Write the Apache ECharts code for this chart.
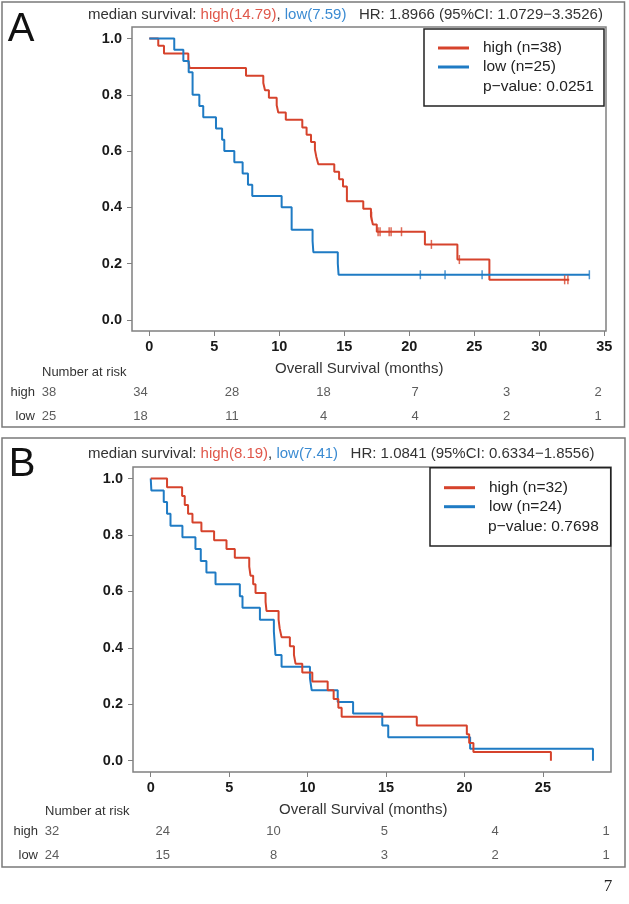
<!DOCTYPE html>
<html><head><meta charset="utf-8">
<script src="https://cdn.jsdelivr.net/npm/echarts@6/dist/echarts.min.js"></script>
<style>html,body{margin:0;padding:0;background:#fff}#c{width:629px;height:904px}</style>
</head><body><div id="c"></div>
<script>
// ---------- Panel A data ----------
const aHighT = [0, 0.69, 1.13, 3.0, 3.1, 7.44, 8.77, 8.9, 9.2, 9.8, 9.92, 10.5, 11.77, 12.1, 12.44, 12.74, 12.85, 13.0, 14.23, 14.6, 14.9, 15.2, 16.46, 17.05, 17.2, 17.5, 21.2, 23.7, 26.16, 32.3];
const aHighS = [1, 0.974, 0.947, 0.921, 0.895, 0.868, 0.842, 0.816, 0.789, 0.763, 0.737, 0.711, 0.684, 0.658, 0.632, 0.605, 0.579, 0.553, 0.526, 0.5, 0.474, 0.421, 0.395, 0.368, 0.339, 0.313, 0.268, 0.214, 0.142, 0.142];
const aHighCensT = [17.1, 17.6, 17.75, 18.45, 18.6, 19.4, 21.7, 23.85, 31.95, 32.2];
const aHighCensS = [0.368, 0.313, 0.313, 0.313, 0.313, 0.313, 0.268, 0.214, 0.142, 0.142];
const aLowT = [0, 1.92, 2.62, 3.03, 3.33, 3.85, 4.15, 5.13, 5.6, 5.77, 6.54, 7.18, 7.59, 7.92, 10.18, 10.95, 12.56, 12.62, 14.5, 14.56, 33.85];
const aLowS = [1, 0.96, 0.92, 0.88, 0.80, 0.76, 0.72, 0.68, 0.64, 0.60, 0.56, 0.52, 0.48, 0.44, 0.40, 0.32, 0.28, 0.24, 0.20, 0.16, 0.16];
const aLowCensT = [20.85, 22.75, 25.6, 33.85];
const aLowCensS = [0.16, 0.16, 0.16, 0.16];
const aXTicks = [0, 5, 10, 15, 20, 25, 30, 35];
const riskTimesA = [0, 5, 10, 15, 20, 25, 30];
const riskAHigh = [38, 34, 28, 18, 7, 3, 2];
const riskALow = [25, 18, 11, 4, 4, 2, 1];
const namesA = ['high (n=38)', 'low (n=25)'];
const headerA = ['median survival: ', 'high(14.79)', ', ', 'low(7.59)', '   HR: 1.8966 (95%CI: 1.0729\u22123.3526)'];
const pA = 'p\u2212value: 0.0251';

// ---------- Panel B data ----------
const bHighT = [0, 1.04, 2.0, 2.17, 2.38, 2.66, 3.23, 4.04, 4.83, 5.36, 6.28, 6.36, 6.53, 6.68, 7.32, 7.38, 8.15, 8.22, 8.34, 8.87, 9.13, 9.23, 9.66, 10.3, 11.28, 11.66, 11.96, 12.17, 16.96, 20.15, 20.3, 20.57, 25.51];
const bHighS = [1, 0.969, 0.938, 0.906, 0.875, 0.844, 0.813, 0.781, 0.75, 0.719, 0.688, 0.656, 0.625, 0.594, 0.563, 0.531, 0.5, 0.469, 0.438, 0.406, 0.375, 0.344, 0.313, 0.281, 0.25, 0.219, 0.188, 0.156, 0.125, 0.094, 0.0625, 0.031, 0];
const bLowT = [0, 0.04, 0.83, 1.04, 1.26, 2.02, 2.85, 3.19, 3.55, 4.13, 5.68, 5.85, 6.96, 7.85, 7.9, 7.95, 8.34, 10.15, 10.26, 11.92, 12.9, 14.76, 15.14, 20.36, 28.19];
const bLowS = [1, 0.958, 0.917, 0.875, 0.833, 0.792, 0.75, 0.708, 0.667, 0.625, 0.583, 0.542, 0.5, 0.458, 0.417, 0.375, 0.333, 0.292, 0.25, 0.208, 0.167, 0.125, 0.083, 0.042, 0];
const bXTicks = [0, 5, 10, 15, 20, 25];
const riskTimesB = [0, 5, 10, 15, 20, 25];
const riskBHigh = [32, 24, 10, 5, 4, 1];
const riskBLow = [24, 15, 8, 3, 2, 1];
const namesB = ['high (n=32)', 'low (n=24)'];
const headerB = ['median survival: ', 'high(8.19)', ', ', 'low(7.41)', '   HR: 1.0841 (95%CI: 0.6334\u22121.8556)'];
const pB = 'p\u2212value: 0.7698';

const yTicks = [0, 0.2, 0.4, 0.6, 0.8, 1.0];

// ---------- styling ----------
const RED = '#d6432c', BLUE = '#1f7bc4';
const RED_T = '#e0574a', BLUE_T = '#3b8bd2';
const FRAME = '#808080';
const FONT = '"Liberation Sans", Arial, sans-serif';

function zip(t, s) { return t.map((v, i) => [v, s[i]]); }

function plotAxes(gi, min, max, ticks) {
  const x = {
    gridIndex: gi, type: 'value', min: min, max: max, position: 'bottom',
    axisLine: { show: false, onZero: false },
    axisTick: { show: true, inside: false, length: 5, customValues: ticks, lineStyle: { color: FRAME, width: 1 } },
    axisLabel: { customValues: ticks, fontWeight: 'bold', fontSize: 14.5, color: '#1a1a1a', margin: 8, fontFamily: FONT },
    splitLine: { show: false }
  };
  const y = {
    gridIndex: gi, type: 'value', min: -0.04, max: 1.041, position: 'left',
    axisLine: { show: false, onZero: false },
    axisTick: { show: true, inside: false, length: 5, customValues: yTicks, lineStyle: { color: FRAME, width: 1 } },
    axisLabel: { customValues: yTicks, fontWeight: 'bold', fontSize: 14.5, color: '#1a1a1a', margin: 10, fontFamily: FONT,
      formatter: v => v.toFixed(1) },
    splitLine: { show: false }
  };
  return [x, y];
}
function riskAxes(gi, max) {
  return [
    { gridIndex: gi, type: 'value', min: 0, max: max, show: false },
    { gridIndex: gi, type: 'category', data: ['low', 'high'], boundaryGap: false,
      axisLine: { show: false, onZero: false }, axisTick: { show: false }, splitLine: { show: false },
      axisLabel: { fontSize: 13, color: '#333', margin: 14, fontFamily: FONT } }
  ];
}

const [ax0, ay0] = plotAxes(0, -1.33, 35.13, aXTicks);
const [ax1, ay1] = plotAxes(1, -1.13, 29.34, bXTicks);
const [ax2, ay2] = riskAxes(2, 30);
const [ax3, ay3] = riskAxes(3, 25);

function kmLine(name, gi, t, s, color, z) {
  return { type: 'line', name: name, xAxisIndex: gi, yAxisIndex: gi, data: zip(t, s), step: 'end',
    symbol: 'none', lineStyle: { color: color, width: 2 }, itemStyle: { color: color }, z: z, silent: true, animation: false };
}
function censor(name, gi, t, s, color) {
  return { type: 'scatter', name: name, xAxisIndex: gi, yAxisIndex: gi, data: zip(t, s),
    symbol: 'rect', symbolSize: [1.5, 9], itemStyle: { color: color }, z: 5, silent: true, animation: false };
}
function riskRow(gi, times, row, vals) {
  return { type: 'scatter', xAxisIndex: gi, yAxisIndex: gi, data: times.map((t, i) => [t, row, vals[i]]),
    symbol: 'circle', symbolSize: 1, itemStyle: { color: 'rgba(255,255,255,0)' }, silent: true, animation: false,
    label: { show: true, position: 'inside', formatter: p => String(p.value[2]), fontSize: 13, color: '#333', fontFamily: FONT } };
}
function header(top, parts) {
  return { left: 88, top: top, padding: 0,
    text: '{k|' + parts[0] + '}{r|' + parts[1] + '}{k|' + parts[2] + '}{b|' + parts[3] + '}{k|' + parts[4] + '}',
    textStyle: { fontSize: 15, fontWeight: 'normal', fontFamily: FONT,
      rich: { k: { color: '#333', fontSize: 15, fontFamily: FONT }, r: { color: RED_T, fontSize: 15, fontFamily: FONT }, b: { color: BLUE_T, fontSize: 15, fontFamily: FONT } } } };
}
function legend(names, left, top) {
  return { orient: 'vertical', left: left, top: top, padding: 0, itemGap: 0, itemWidth: 31, itemHeight: 3, icon: 'rect',
    selectedMode: false, data: names,
    textStyle: { fontSize: 15.5, color: '#222', lineHeight: 19, padding: [0, 0, 0, 9], fontFamily: FONT } };
}
function txt(x, y, s, size, extra) {
  return Object.assign({ type: 'text', x: x, y: y, z: 20,
    style: Object.assign({ text: s, fontSize: size, fill: '#333', fontFamily: FONT, verticalAlign: 'middle', textAlign: 'left' }, extra || {}) });
}
function box(x, y, w, h, stroke, lw) {
  return { type: 'rect', z: 15, shape: { x: x, y: y, width: w, height: h },
    style: { fill: 'none', stroke: stroke, lineWidth: lw } };
}

const chart = echarts.init(document.getElementById('c'), null, { renderer: 'canvas' });
chart.setOption({
  animation: false,
  backgroundColor: '#fff',
  textStyle: { fontFamily: FONT },
  title: [header(7, headerA), header(446, headerB)],
  legend: [legend(namesA, 438, 38.5), legend(namesB, 444, 478.2)],
  grid: [
    { left: 132, top: 27, width: 474, height: 304, show: true, borderColor: FRAME, borderWidth: 1.5, backgroundColor: 'transparent' },
    { left: 133, top: 467, width: 478, height: 305, show: true, borderColor: FRAME, borderWidth: 1.5, backgroundColor: 'transparent' },
    { left: 49, top: 392, width: 549, height: 24 },
    { left: 52, top: 831, width: 554, height: 24 }
  ],
  xAxis: [ax0, ax1, ax2, ax3],
  yAxis: [ay0, ay1, ay2, ay3],
  series: [
    kmLine(namesA[0], 0, aHighT, aHighS, RED, 3),
    kmLine(namesA[1], 0, aLowT, aLowS, BLUE, 4),
    censor(namesA[0], 0, aHighCensT, aHighCensS, RED),
    censor(namesA[1], 0, aLowCensT, aLowCensS, BLUE),
    kmLine(namesB[1], 1, bLowT, bLowS, BLUE, 3),
    kmLine(namesB[0], 1, bHighT, bHighS, RED, 4),
    riskRow(2, riskTimesA, 'high', riskAHigh),
    riskRow(2, riskTimesA, 'low', riskALow),
    riskRow(3, riskTimesB, 'high', riskBHigh),
    riskRow(3, riskTimesB, 'low', riskBLow)
  ],
  graphic: [
    box(2, 2, 622.5, 425, '#7a7a7a', 1.5),
    box(2, 438, 623, 429, '#7a7a7a', 1.5),
    box(424, 29, 180, 77, '#222', 1.5),
    box(430, 467.7, 180.7, 78.3, '#222', 1.5),
    txt(483, 87, pA, 15.5, { fill: '#222' }),
    txt(488, 526.7, pB, 15.5, { fill: '#222' }),
    txt(21, 30, 'A', 40, { fill: '#111', textAlign: 'center' }),
    txt(22, 465, 'B', 40, { fill: '#111', textAlign: 'center' }),
    txt(42, 372, 'Number at risk', 13),
    txt(45, 811, 'Number at risk', 13),
    txt(275, 369, 'Overall Survival (months)', 15),
    txt(279, 810, 'Overall Survival (months)', 15),
    txt(608, 887, '7', 17, { fill: '#222', textAlign: 'center', fontFamily: '"Liberation Serif", "Times New Roman", serif' })
  ]
});
</script>
</body></html>
